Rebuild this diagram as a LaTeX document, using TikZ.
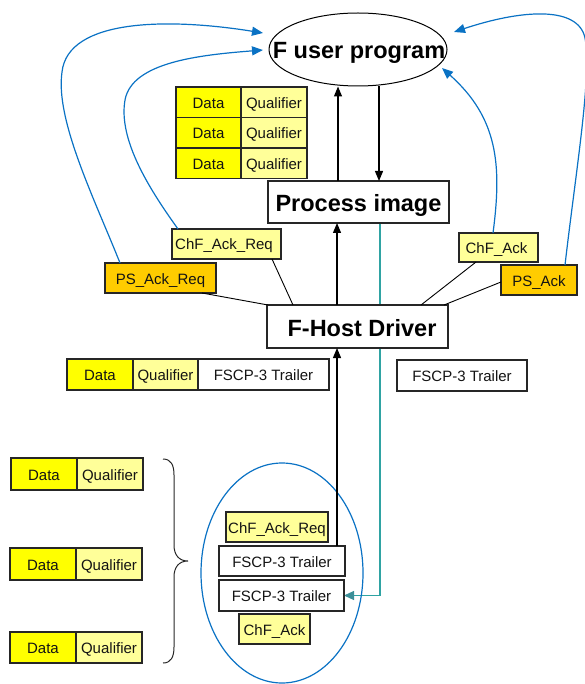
\documentclass[tikz,border=0pt]{standalone}
\usepackage{fontspec}
\setmainfont{Liberation Sans}
\usetikzlibrary{arrows.meta,calc,shapes.geometric}

\definecolor{datayellow}{HTML}{FFFF00}
\definecolor{qualyellow}{HTML}{FFFF99}
\definecolor{ackorange}{HTML}{FFCC00}
\definecolor{ackblue}{HTML}{0A72C4}
\definecolor{imgteal}{HTML}{2FA3A3}
\definecolor{imgtealtip}{HTML}{3C8F98}

\pgfdeclarelayer{bg}
\pgfsetlayers{bg,main}

\tikzset{
  box/.style={draw=black!85, line width=1.1pt, anchor=north west,
    inner sep=0pt, outer sep=0pt, text=black!92,
    text height=12pt, text depth=0pt,
    font=\fontsize{15}{18}\selectfont},
  datacell/.style={box, fill=datayellow},
  qualcell/.style={box, fill=qualyellow},
  ackcell/.style={box, fill=ackorange},
  plaincell/.style={box, fill=white},
  bigbox/.style={box, fill=white, font=\fontsize{23.5}{28}\selectfont\bfseries,
    text=black, text height=20pt, text depth=0pt},
  arr/.style={line width=1.2pt, black, -{Triangle[length=10pt,width=8pt]}},
  tealarr/.style={line width=1.1pt, imgteal, -{Triangle[length=10pt,width=9pt,color=imgtealtip]}},
  bluearr/.style={line width=1.2pt, ackblue, -{Triangle[length=11pt,width=9pt]}},
  thinline/.style={line width=0.9pt, black},
}

\begin{document}
\begin{tikzpicture}[x=1pt,y=-1pt]
\useasboundingbox (0,0) rectangle (585,684);

% F user program
\node[draw=black, line width=1pt, ellipse, minimum width=178pt, minimum height=73pt, inner sep=0pt] (fup) at (358,49.5) {};
\node[font=\fontsize{23.5}{28}\selectfont\bfseries, inner sep=0pt, text height=16.8pt, text depth=0pt] (fuptext) at (359,50.5) {F user program};

% stacked data/qualifier pairs above the process image
\node[datacell, minimum width=65pt, minimum height=30.5pt] (d1) at (176,87) {Data};
\node[qualcell, minimum width=66pt, minimum height=30.5pt] (q1) at (241,87) {Qualifier};
\node[datacell, minimum width=65pt, minimum height=30.5pt] (d2) at (176,117.5) {Data};
\node[qualcell, minimum width=66pt, minimum height=30.5pt] (q2) at (241,117.5) {Qualifier};
\node[datacell, minimum width=65pt, minimum height=30.5pt] (d3) at (176,148) {Data};
\node[qualcell, minimum width=66pt, minimum height=30.5pt] (q3) at (241,148) {Qualifier};

% process image and host driver
\node[bigbox, minimum width=181pt, minimum height=42pt] (pimg) at (268,181) {Process image};
\node[bigbox, minimum width=181pt, minimum height=43pt] (fhd) at (267,305) {\hspace*{9pt}F-Host Driver};

% acknowledge signals
\node[qualcell, minimum width=109pt, minimum height=30pt] (chreq) at (172,229) {ChF\_Ack\_Req\hspace*{5pt}};
\node[ackcell, minimum width=111pt, minimum height=30pt] (psreq) at (105,263) {PS\_Ack\_Req};
\node[qualcell, minimum width=79pt, minimum height=29pt] (chack) at (459,233) {ChF\_Ack\hspace*{4pt}};
\node[ackcell, minimum width=76pt, minimum height=30pt] (psack) at (501,265) {PS\_Ack};

% telegram rows
\node[datacell, minimum width=66pt, minimum height=31pt] (md) at (67,359) {Data};
\node[qualcell, minimum width=65pt, minimum height=31pt] (mq) at (133,359) {Qualifier};
\node[plaincell, minimum width=131pt, minimum height=31pt] (mt) at (198,359) {FSCP-3 Trailer};
\node[plaincell, minimum width=130pt, minimum height=31pt] (rt) at (397,360) {FSCP-3 Trailer};

% channel data on the left
\node[datacell, minimum width=66pt, minimum height=32pt] (ld1) at (11,458) {Data};
\node[qualcell, minimum width=66pt, minimum height=32pt] (lq1) at (77,458) {Qualifier};
\node[datacell, minimum width=66pt, minimum height=32pt] (ld2) at (10,548) {Data};
\node[qualcell, minimum width=66pt, minimum height=32pt] (lq2) at (76,548) {Qualifier};
\node[datacell, minimum width=66pt, minimum height=31pt] (ld3) at (10,632) {Data};
\node[qualcell, minimum width=66pt, minimum height=31pt] (lq3) at (76,632) {Qualifier};

% grouped safety frame
\node[draw=ackblue, line width=1.2pt, ellipse, minimum width=162pt, minimum height=220pt, inner sep=0pt] (grp) at (282,573) {};
\node[qualcell, minimum width=102pt, minimum height=30pt] (ereq) at (226,512) {ChF\_Ack\_Req};
\node[plaincell, minimum width=126pt, minimum height=30pt] (ef1) at (219,546) {FSCP-3 Trailer};
\node[plaincell, minimum width=125pt, minimum height=31pt] (ef2) at (219,580) {FSCP-3 Trailer};
\node[qualcell, minimum width=71pt, minimum height=30pt] (eack) at (239,614) {ChF\_Ack};

% brace
\draw[line width=1pt, black!85] (163,459) .. controls (171,459) and (174,465) .. (174,475) -- (174,545)
  .. controls (174,555) and (179,561) .. (188,561)
  .. controls (179,561) and (174,567) .. (174,577) -- (174,647)
  .. controls (174,657) and (171,663) .. (163,663);

% vertical guides
\coordinate (xa) at (338,0);
\coordinate (xb) at (379,0);
\coordinate (xc) at (337,0);
\coordinate (xt) at (380,0);

% data flow
\draw[arr] (pimg.north -| xa) -- (fup.south -| xa);
\draw[arr] (fup.south -| xb) -- (pimg.north -| xb);
\draw[arr] (fhd.north -| xc) -- (pimg.south -| xc);
\draw[arr] (ef1.north -| xc) -- (fhd.south -| xc);
\begin{pgfonlayer}{bg}
\draw[tealarr] (pimg.south -| xt) |- (ef2.east);
\end{pgfonlayer}

% signal leads into the host driver
\draw[thinline] ($(psreq.south west)+(97,0)$) -- ($(fhd.north west)+(1,0)$);
\draw[thinline] ($(chreq.south west)+(100,0)$) -- ($(fhd.north west)+(26,0)$);
\draw[thinline] ($(chack.south west)+(17,0)$) -- ($(fhd.north west)+(154,0)$);
\draw[thinline] ($(psack.west)+(0,2)$) -- ($(fhd.north east)+(-4,0)$);

% acknowledge paths to the user program
\coordinate (tip1) at (263,33);
\coordinate (tip2) at (263,50);
\coordinate (tip3) at (442,68);
\coordinate (tip4) at (454,32);
\draw[bluearr] ($(psreq.north west)+(15,0)$) .. controls (95,200) and (55,120) .. (62,72)
  .. controls (68,18) and (170,18) .. (tip1);
\draw[bluearr] ($(chreq.north west)+(6,0)$) .. controls (150,190) and (118,140) .. (125,100)
  .. controls (132,62) and (200,55) .. (tip2);
\draw[bluearr] ($(chack.north west)+(34,0)$) .. controls (502,165) and (498,118) .. (tip3);
\draw[bluearr] ($(psack.north west)+(64,0)$) .. controls (576,170) and (592,75) .. (585,38)
  .. controls (578,5) and (520,10) .. (tip4);
\end{tikzpicture}
\end{document}
